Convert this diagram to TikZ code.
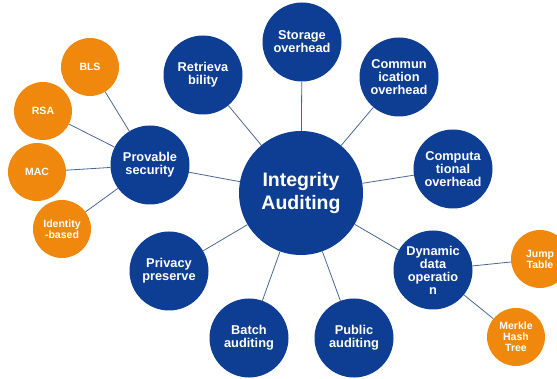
\documentclass[tikz,border=0pt]{standalone}
\usepackage{fontspec}
\setmainfont{Liberation Sans}
\usepackage{xcolor}
\definecolor{hubblue}{HTML}{0D3E94}
\definecolor{leaforange}{HTML}{EF880C}
\definecolor{linkgrey}{HTML}{4A6696}

\begin{document}
\begin{tikzpicture}[x=1pt,y=-1pt]
			\tikzset{
				my hub/.style={
						circle, fill=hubblue, text=white, inner sep=0pt,
						minimum size=124pt, align=center,
						font=\bfseries\fontsize{19.5}{23}\selectfont,
					},
				my topic/.style={
						circle, fill=hubblue, text=white, inner sep=0pt,
						minimum size=79pt, align=center,
						font=\bfseries\fontsize{12.8}{13}\selectfont,
					},
				my leaf/.style={
						circle, fill=leaforange, text=white, inner sep=0pt,
						minimum size=58pt, align=center,
						font=\bfseries\fontsize{10.5}{11}\selectfont,
					},
				my link/.style={draw=linkgrey, line width=0.8pt},
			}
			\useasboundingbox (0,0) rectangle (557,379);
			\clip (0,0) rectangle (557,379);
			\node[my hub] at (301,193) (hub) {Integrity\\Auditing};
			\node[my topic] at (302,42) (stor) {Storage\\overhead};
			\node[my topic] at (203,75) (retr) {Retrieva\\bility};
			\node[my topic] at (399,77) (comm) {Commun\\ication\\overhead};
			\node[my topic] at (453,169) (comp) {Computa\\tional\\overhead};
			\node[my topic] at (150,165) (prov) {Provable\\security};
			\node[my topic] at (169,271) (priv) {Privacy\\preserve};
			\node[my topic] at (249,338) (batch) {Batch\\auditing};
			\node[my topic] at (354,338) (publ) {Public\\auditing};
			\node[my topic] at (433,270) (dyn) {Dynamic\\data\\operatio\\n};
			\node[my leaf] at (90,67) (bls) {BLS};
			\node[my leaf] at (43,111) (rsa) {RSA};
			\node[my leaf] at (37,172) (mac) {MAC};
			\node[my leaf] at (62,229) (ident) {Identity\\-based};
			\node[my leaf] at (540,259) (jump) {Jump\\Table};
			\node[my leaf] at (516,337) (merk) {Merkle\\Hash\\Tree};
			%
			\foreach \t in {stor,retr,comm,comp,prov,priv,batch,publ,dyn}
				\draw[my link] (hub) -- (\t);
			\foreach \l in {bls,rsa,mac,ident}
				\draw[my link] (prov) -- (\l);
			\draw[my link] (dyn) -- (jump);
			\draw[my link] (dyn) -- (merk);
		\end{tikzpicture}
\end{document}
